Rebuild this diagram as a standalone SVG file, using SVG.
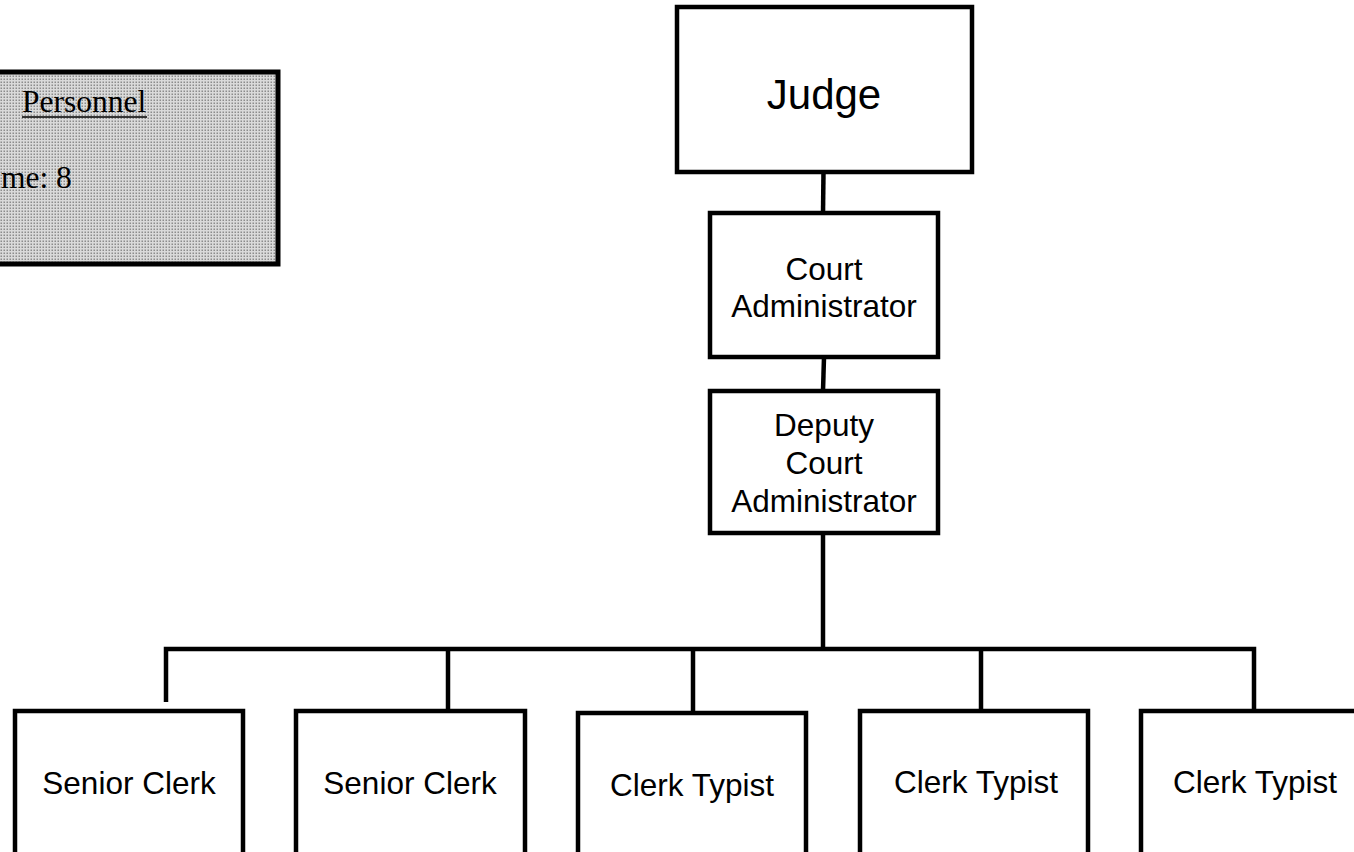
<svg xmlns="http://www.w3.org/2000/svg" width="1354" height="852" viewBox="0 0 1354 852">
<defs>
<pattern id="dots" width="3" height="3" patternUnits="userSpaceOnUse">
<rect width="3" height="3" fill="#dadada"/>
<rect x="0.5" y="0.5" width="1.5" height="1.5" fill="#8c8c8c"/>
</pattern>
</defs>
<style>
.box{fill:#fff;stroke:#000;stroke-width:4.5}
.lbl{font-family:"Liberation Sans",Arial,sans-serif;font-size:31.5px;fill:#000;text-anchor:middle}
.ser{font-family:"Liberation Serif","Times New Roman",serif;font-size:31.5px;fill:#000}
.wire{fill:none;stroke:#000;stroke-width:4.5}
</style>
<rect width="1354" height="852" fill="#fff"/>
<g id="connectors">
<line class="wire" x1="823.5" y1="172" x2="823" y2="213"/>
<line class="wire" x1="824" y1="357" x2="823" y2="391"/>
<line class="wire" x1="823" y1="533" x2="823" y2="649"/>
<polyline class="wire" points="166,702 166,649 1254,649 1254,711"/>
<line class="wire" x1="448" y1="649" x2="448" y2="711"/>
<line class="wire" x1="693" y1="649" x2="693" y2="713"/>
<line class="wire" x1="981" y1="649" x2="981" y2="711"/>
</g>
<g id="personnel">
<rect x="-200" y="72" width="478" height="192" fill="url(#dots)" stroke="#000" stroke-width="5"/>
<text class="ser" x="22" y="112">Personnel</text>
<line x1="22" y1="117" x2="147" y2="117" stroke="#000" stroke-width="1.6"/>
<text class="ser" x="1" y="188">me: 8</text>
</g>
<g id="judge">
<rect class="box" x="677" y="7" width="295" height="165"/>
<text class="lbl" x="824" y="109" style="font-size:42px">Judge</text>
</g>
<g id="court-admin">
<rect class="box" x="710" y="213" width="228" height="144"/>
<text class="lbl" x="824" y="280">Court</text>
<text class="lbl" x="824" y="317">Administrator</text>
</g>
<g id="deputy">
<rect class="box" x="710" y="391" width="228" height="142"/>
<text class="lbl" x="824" y="436">Deputy</text>
<text class="lbl" x="824" y="474">Court</text>
<text class="lbl" x="824" y="512">Administrator</text>
</g>
<g id="senior-clerk-1">
<rect class="box" x="15" y="711" width="228" height="150"/>
<text class="lbl" x="129" y="794">Senior Clerk</text>
</g>
<g id="senior-clerk-2">
<rect class="box" x="296" y="711" width="229" height="150"/>
<text class="lbl" x="410" y="794">Senior Clerk</text>
</g>
<g id="clerk-typist-1">
<rect class="box" x="578" y="713" width="228" height="150"/>
<text class="lbl" x="692" y="796">Clerk Typist</text>
</g>
<g id="clerk-typist-2">
<rect class="box" x="860" y="711" width="228" height="150"/>
<text class="lbl" x="976" y="793">Clerk Typist</text>
</g>
<g id="clerk-typist-3">
<rect class="box" x="1141" y="711" width="228" height="150"/>
<text class="lbl" x="1255" y="793">Clerk Typist</text>
</g>
</svg>
